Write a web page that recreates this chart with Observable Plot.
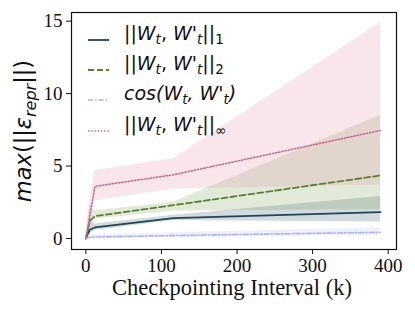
<!DOCTYPE html>
<html><head><meta charset="utf-8">
<script src="https://cdn.jsdelivr.net/npm/d3@7"></script>
<script src="https://cdn.jsdelivr.net/npm/@observablehq/plot@0.6"></script>
<style>body{margin:0;background:#fff}</style>
</head><body><div id="chart"></div>
<script>
const xs = [0, 5, 12, 116, 390];
const l1 = [0, 0.6, 0.76, 1.4, 1.82];
const l1Lo = [0, 0.3, 0.55, 1.24, 1.13];
const l1Hi = [0, 1.2, 1.0, 1.6, 2.9];
const l2 = [0, 1.2, 1.54, 2.3, 4.35];
const l2Lo = [0, 0.8, 1.33, 1.9, 2.0];
const l2Hi = [0, 2.2, 1.9, 2.5, 8.5];
const cosv = [0, 0.08, 0.1, 0.2, 0.43];
const cosLo = [0, 0.0, 0.0, 0.05, 0.2];
const cosHi = [0, 0.2, 0.25, 0.4, 0.75];
const linf = [0, 1.5, 3.6, 4.4, 7.46];
const linfLo = [0, 0.8, 2.6, 3.4, 3.7];
const linfHi = [0, 2.5, 4.7, 5.5, 14.9];
const xTicks = [0, 100, 200, 300, 400];
const yTicks = [0, 5, 10, 15];

const series = [
  {key: "l1", mid: l1, lo: l1Lo, hi: l1Hi, color: "#1d4658", band: "#1d4658", op: 0.2, dash: null, w: 1.8},
  {key: "l2", mid: l2, lo: l2Lo, hi: l2Hi, color: "#5b7f2c", band: "#6b8f3c", op: 0.2, dash: "6,3", w: 1.8},
  {key: "cos", mid: cosv, lo: cosLo, hi: cosHi, color: "#aab4ee", band: "#aab4ee", op: 0.2, dash: "5,2,1.5,2", w: 1.6},
  {key: "inf", mid: linf, lo: linfLo, hi: linfHi, color: "#c8668a", band: "#e29bb1", op: 0.25, dash: "1.4,1.8", w: 1.5}
];
const rows = s => xs.map((x, i) => ({x, y: s.mid[i], lo: s.lo[i], hi: s.hi[i]}));

const marks = [];
for (const s of series) {
  marks.push(Plot.areaY(rows(s), {x: "x", y1: "lo", y2: "hi", fill: s.band, fillOpacity: s.op}));
}
for (const s of series) {
  marks.push(Plot.lineY(rows(s), {x: "x", y: "y", stroke: s.color, strokeWidth: s.w, strokeDasharray: s.dash}));
}
marks.push(Plot.frame({stroke: "#111", strokeWidth: 1.2}));
marks.push(Plot.axisX({ticks: xTicks, tickSize: 5, tickPadding: 4, label: null, fontSize: 19, fontFamily: "Liberation Serif"}));
marks.push(Plot.axisY({ticks: yTicks, tickSize: 5, tickPadding: 4, label: null, fontSize: 19, fontFamily: "Liberation Serif"}));

const plot = Plot.plot({
  width: 415, height: 311,
  marginLeft: 71, marginRight: 19, marginTop: 12, marginBottom: 62,
  x: {domain: [-19, 411]},
  y: {domain: [-0.76, 15.6]},
  style: {fontFamily: "Liberation Serif", fontSize: "19px", color: "#111", background: "#fff"},
  marks
});
document.getElementById("chart").appendChild(plot);

const svg = d3.select(plot);
// x label
svg.append("text").attr("x", 232).attr("y", 295).attr("text-anchor", "middle")
  .style("font-family", "Liberation Serif").style("font-size", "22.5px").attr("fill", "#111")
  .text("Checkpointing Interval (k)");
// y label
const yl = svg.append("text").attr("transform", "translate(31,131) rotate(-90)").attr("text-anchor", "middle")
  .style("font-family", "DejaVu Sans").style("font-size", "22.5px").attr("fill", "#111");
yl.append("tspan").style("font-style", "italic").text("max");
yl.append("tspan").text("(||");
yl.append("tspan").style("font-style", "italic").text("ε");
yl.append("tspan").style("font-style", "italic").style("font-size", "16px").attr("dy", 5).text("repr");
yl.append("tspan").attr("dy", -5).text("||)");

// legend
const legY = [40, 70, 100, 131];
const fs = 19, sub = 13.5;
function addLabel(g, parts) {
  const t = g.append("text").attr("x", 124).attr("y", 0).attr("dy", "0.3em").attr("text-anchor", "start")
    .style("font-family", "DejaVu Sans").style("font-size", fs + "px").attr("fill", "#111");
  let cur = 0;
  for (const [txt, it, s] of parts) {
    const dy = (s ? 4 : 0) - cur; cur = s ? 4 : 0;
    const sp = t.append("tspan").text(txt).attr("dy", dy);
    if (it) sp.style("font-style", "italic");
    if (s) sp.style("font-size", sub + "px");
  }
}
const norm = last => [["||", 0, 0], ["W", 1, 0], ["t", 1, 1], [", ", 0, 0], ["W'", 1, 0], ["t", 1, 1], ["||", 0, 0], [last, 0, 1]];
const labels = [
  norm("1"), norm("2"),
  [["cos(W", 1, 0], ["t", 1, 1], [", W'", 1, 0], ["t", 1, 1], [")", 1, 0]],
  norm("∞")
];
series.forEach((s, i) => {
  const g = svg.append("g").attr("transform", `translate(0,${legY[i]})`);
  g.append("line").attr("x1", 88).attr("x2", 109).attr("y1", 0).attr("y2", 0)
    .attr("stroke", s.color).attr("stroke-width", s.w).attr("stroke-dasharray", s.dash);
  addLabel(g, labels[i]);
});
</script></body></html>
